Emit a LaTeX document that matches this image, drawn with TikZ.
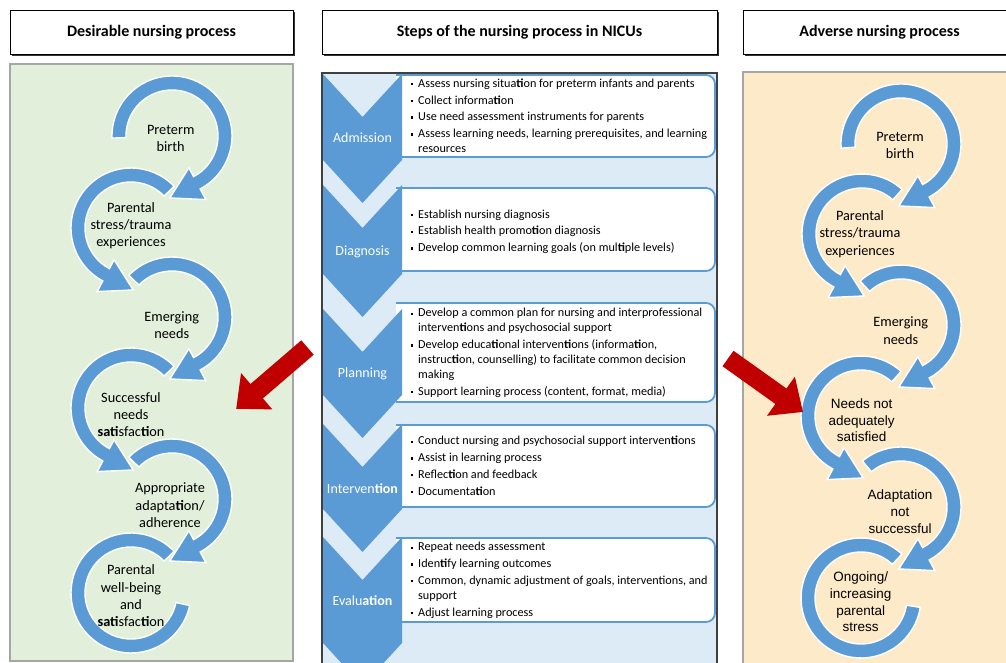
\documentclass[tikz,border=0pt]{standalone}
\usepackage{fontspec}
\setmainfont{Carlito}
\newfontfamily\arialf{Liberation Sans}
\usetikzlibrary{calc,shadows}
\definecolor{chevblue}{HTML}{5B9BD5}
\definecolor{bluebg}{HTML}{DDEBF7}
\definecolor{greenbg}{HTML}{E2EFDA}
\definecolor{creambg}{HTML}{FDEAC8}
\definecolor{arrowred}{HTML}{C00000}
\newcommand\bti{\textbf{ti}}
\newcommand\bul{\makebox[7.5pt][l]{\raisebox{2pt}{\rule{2.4pt}{2.4pt}}}}
\newcommand\ind{\hspace*{7.5pt}}
% circular arrow: name, cx, cy, start angle, end angle, tip angle
\newcommand\carr[6]{%
  \coordinate (#1) at (#2,#3);
  \filldraw[arcstyle] ($(#1)+(#4:60)$) arc[start angle=#4,end angle=#5,radius=60]
    -- ($(#1)+(#5:72)$) -- ($(#1)+(#6:62)$) -- ($(#1)+(#5:36)$)
    -- ($(#1)+(#5:46)$) arc[start angle=#5,end angle=#4,radius=46] -- cycle;}
% circular band without head: name, cx, cy, start, end
\newcommand\cband[5]{%
  \coordinate (#1) at (#2,#3);
  \filldraw[arcstyle] ($(#1)+(#4:60)$) arc[start angle=#4,end angle=#5,radius=60]
    -- ($(#1)+(#5:46)$) arc[start angle=#5,end angle=#4,radius=46] -- cycle;}
\newcommand\chev[2]{\fill[chevblue] (323,#1) -- (362.5,#1+43) -- (402,#1) -- (402,#2) -- (362.5,#2+43) -- (323,#2) -- cycle;}
\newcommand\stepbox[2]{\filldraw[fill=white,draw=chevblue,line width=1.8pt,rounded corners=9pt] (396,#1) -- (715,#1) -- (715,#2) -- (396,#2);}
\newcommand\redarrow[4]{\fill[arrowred,shift={(#1,#2)},rotate=#3] (0,-9.5) -- (#4-27,-9.5) -- (#4-27,-24) -- (#4,0) -- (#4-27,24) -- (#4-27,9.5) -- (0,9.5) -- cycle;}
\begin{document}
\begin{tikzpicture}[x=1pt,y=-1pt,
  hdr/.style={draw=black,line width=0.9pt,fill=white,minimum height=44pt,inner sep=0pt,
    font=\bfseries\fontsize{16}{19}\selectfont,
    drop shadow={shadow xshift=1.8pt,shadow yshift=-1.8pt,fill=black!80,opacity=1}},
  arcstyle/.style={fill=chevblue,draw=white,line width=1.4pt,line join=miter},
  chevlbl/.style={text=white,inner sep=0pt,font=\fontsize{14}{17}\selectfont},
  btext/.style={anchor=north west,inner sep=0pt,align=left,font=\fontsize{12.2}{15}\selectfont},
  ctext/.style={align=center,inner sep=0pt,font=\fontsize{14.3}{17.3}\selectfont},
  atext/.style={align=center,inner sep=0pt,font=\arialf\fontsize{13.5}{16.6}\selectfont}]
\useasboundingbox (0,0) rectangle (1006,663);
\clip (0,0) rectangle (1006,663);
\fill[white] (0,0) rectangle (1006,663);
% headers
\node[hdr,minimum width=283pt] (h1) at (151.5,32) {Desirable nursing process};
\node[hdr,minimum width=395pt] (h2) at (519.5,32) {Steps of the nursing process in NICUs};
\node[hdr,minimum width=273pt] (h3) at (879.5,32) {Adverse nursing process};
% panels
\draw[line width=1.2pt,draw=black!35,fill=greenbg] (10,64) rectangle (293,661);
\draw[line width=1.2pt,draw=black!75,fill=bluebg] (322,73) rectangle (717,672);
\draw[line width=1.2pt,draw=black!35,fill=creambg] (743,72) rectangle (1015,672);
% step boxes
\stepbox{75}{157}
\stepbox{188}{271}
\stepbox{303}{402}
\stepbox{425}{507}
\stepbox{538}{622}
% chevrons
\chev{74}{160}
\chev{185}{274}
\chev{309}{395}
\chev{424}{509}
\chev{537}{643}
\node[chevlbl] (l1) at (362.5,138) {Admission};
\node[chevlbl] (l2) at (362.5,252) {Diagnosis};
\node[chevlbl] (l3) at (362.5,374) {Planning};
\node[chevlbl] (l4) at (362.5,489) {Interven\textbf{tion}};
\node[chevlbl] (l5) at (362.5,601) {Evalu\textbf{ation}};
% step texts
\node[btext] (t1) at (410.5,76.8) {\strut\bul Assess nursing situa\bti on for preterm infants and parents\\[1.7pt]
\bul Collect informa\bti on\\[1.7pt]
\bul Use need assessment instruments for parents\\[1.7pt]
\bul Assess learning needs, learning prerequisites, and learning\\
\ind resources};
\node[btext] (t2) at (410.5,207.5) {\strut\bul Establish nursing diagnosis\\[1.7pt]
\bul Establish health promo\bti on diagnosis\\[1.7pt]
\bul Develop common learning goals (on mul\bti ple levels)};
\node[btext] (t3) at (410.5,306.2) {\strut\bul Develop a common plan for nursing and interprofessional\\
\ind interven\bti ons and psychosocial support\\[1.7pt]
\bul Develop educa\bti onal interven\bti ons (informa\bti on,\\
\ind instruc\bti on, counselling) to facilitate common decision\\
\ind making\\[1.7pt]
\bul Support learning process (content, format, media)};
\node[btext] (t4) at (410.5,434.2) {\strut\bul Conduct nursing and psychosocial support interven\bti ons\\[1.7pt]
\bul Assist in learning process\\[1.7pt]
\bul Reflec\bti on and feedback\\[1.7pt]
\bul Documenta\bti on};
\node[btext] (t5) at (410.5,540.2) {\strut\bul Repeat needs assessment\\[1.7pt]
\bul Iden\bti fy learning outcomes\\[1.7pt]
\bul Common, dynamic adjustment of goals, interventions, and\\
\ind support\\[1.7pt]
\bul Adjust learning process};
% left circular arrows
\carr{c1}{172}{136}{178}{422}{452}
\carr{c2}{131}{228}{316}{118}{88}
\carr{c3}{172}{317}{224}{422}{452}
\carr{c4}{131}{408}{316}{118}{88}
\carr{c5}{172}{499}{224}{422}{452}
\cband{c6}{131}{593}{316}{12}
\node[ctext] (n1) at (170.7,138.7) {Preterm\\birth};
\node[ctext] (n2) at (131,225.7) {Parental\\stress/trauma\\experiences};
\node[ctext] (n3) at (171.7,325) {Emerging\\needs};
\node[ctext] (n4) at (131,414.4) {Successful\\needs\\\textbf{sati}sfac\bti on};
\node[ctext] (n5) at (170,505.4) {Appropriate\\adapta\bti on/\\adherence};
\node[ctext] (n6) at (131,596) {Parental\\well-being\\and\\\textbf{sati}sfac\bti on};
% right circular arrows
\carr{r1}{901}{144}{176}{422}{452}
\carr{r2}{862}{234}{312}{118}{88}
\carr{r3}{901}{325}{227}{422}{452}
\carr{r4}{861}{416}{312}{118}{88}
\carr{r5}{901}{507}{230}{422}{452}
\cband{r6}{861}{598}{313}{9}
\node[ctext] (m1) at (900,145.7) {Preterm\\birth};
\node[ctext] (m2) at (860,234) {Parental\\stress/trauma\\experiences};
\node[ctext] (m3) at (900.7,330.5) {Emerging\\needs};
\node[atext] (m4) at (861.7,420.4) {Needs not\\adequately\\satisfied};
\node[atext] (m5) at (900,511.7) {Adaptation\\not\\successful};
\node[atext] (m6) at (860.7,602) {Ongoing/\\increasing\\parental\\stress};
% red arrows
\redarrow{307.5}{347.5}{-139.3}{94}
\redarrow{728}{358.5}{-35.5}{92}
\end{tikzpicture}
\end{document}
